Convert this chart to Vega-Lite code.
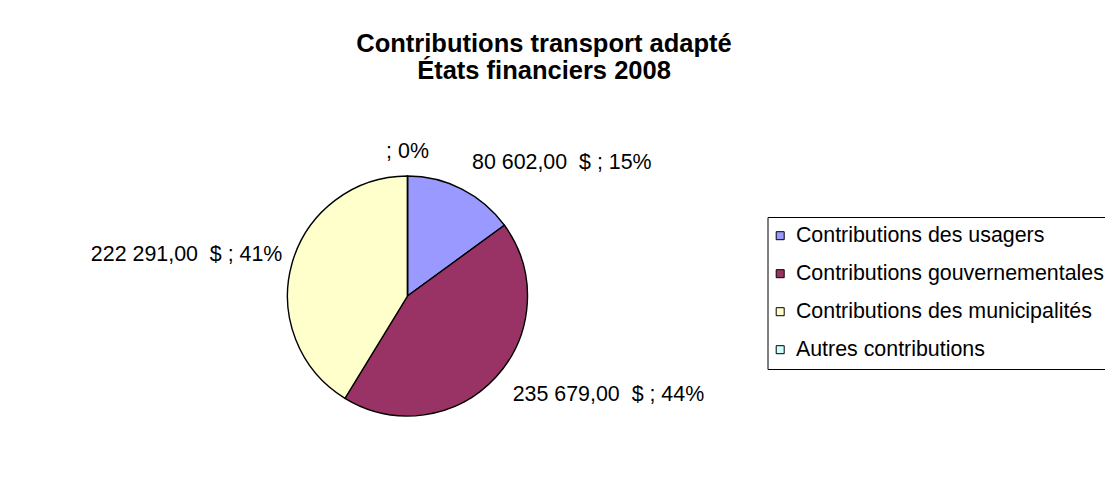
{
  "$schema": "https://vega.github.io/schema/vega-lite/v6.json",
  "autosize": {"type": "none"},
  "width": 240,
  "height": 240,
  "padding": {"left": 287.5, "top": 176, "right": 577.5, "bottom": 88},
  "background": "white",
  "title": {
    "text": ["Contributions transport adapté", "États financiers 2008"],
    "font": "Liberation Sans",
    "fontSize": 25.5,
    "fontWeight": "bold",
    "color": "black",
    "lineHeight": 27,
    "anchor": "middle",
    "frame": "group",
    "dx": 136.5,
    "dy": -42,
    "offset": 10
  },
  "data": {
    "values": [
      {"categorie": "Contributions des usagers", "montant": 80602, "rang": 1, "etiquette": "80 602,00\u00a0 $ ; 15%"},
      {"categorie": "Contributions gouvernementales", "montant": 235679, "rang": 2, "etiquette": "235 679,00\u00a0 $ ; 44%"},
      {"categorie": "Contributions des municipalités", "montant": 222291, "rang": 3, "etiquette": "222 291,00\u00a0 $ ; 41%"},
      {"categorie": "Autres contributions", "montant": 0, "rang": 4, "etiquette": "; 0%"}
    ]
  },
  "encoding": {
    "theta": {"field": "montant", "type": "quantitative", "stack": true},
    "order": {"field": "rang", "type": "quantitative", "sort": "ascending"}
  },
  "layer": [
    {
      "mark": {"type": "arc", "outerRadius": 120, "stroke": "black", "strokeWidth": 1.4},
      "encoding": {
        "color": {
          "field": "categorie",
          "type": "nominal",
          "scale": {
            "domain": ["Contributions des usagers", "Contributions gouvernementales", "Contributions des municipalités", "Autres contributions"],
            "range": ["#9999FF", "#993366", "#FFFFCC", "#CCFFFF"]
          },
          "legend": {
            "title": null,
            "orient": "none",
            "legendX": 480,
            "legendY": 41,
            "padding": 8,
            "fillColor": "white",
            "strokeColor": "black",
            "symbolType": "square",
            "symbolSize": 64,
            "symbolOffset": -6,
            "symbolStrokeColor": "black",
            "symbolStrokeWidth": 1,
            "symbolOpacity": 1,
            "labelFont": "Liberation Sans",
            "labelFontSize": 21.4,
            "labelColor": "black",
            "labelOffset": 5,
            "labelLimit": 500,
            "rowPadding": 15
          }
        }
      }
    },
    {
      "mark": {"type": "text", "radius": 149, "align": "left", "baseline": "middle", "dx": -3, "font": "Liberation Sans", "fontSize": 21.4, "color": "black"},
      "encoding": {
        "text": {"condition": {"test": "datum.categorie === 'Contributions des usagers'", "field": "etiquette"}, "value": ""}
      }
    },
    {
      "mark": {"type": "text", "radius": 143, "align": "left", "baseline": "middle", "dy": 2, "font": "Liberation Sans", "fontSize": 21.4, "color": "black"},
      "encoding": {
        "text": {"condition": {"test": "datum.categorie === 'Contributions gouvernementales'", "field": "etiquette"}, "value": ""}
      }
    },
    {
      "mark": {"type": "text", "radius": 130, "align": "right", "baseline": "middle", "dy": -6, "font": "Liberation Sans", "fontSize": 21.4, "color": "black"},
      "encoding": {
        "text": {"condition": {"test": "datum.categorie === 'Contributions des municipalités'", "field": "etiquette"}, "value": ""}
      }
    },
    {
      "mark": {"type": "text", "radius": 144, "align": "center", "baseline": "middle", "font": "Liberation Sans", "fontSize": 21.4, "color": "black"},
      "encoding": {
        "text": {"condition": {"test": "datum.categorie === 'Autres contributions'", "field": "etiquette"}, "value": ""}
      }
    }
  ],
  "config": {"view": {"stroke": null}}
}
